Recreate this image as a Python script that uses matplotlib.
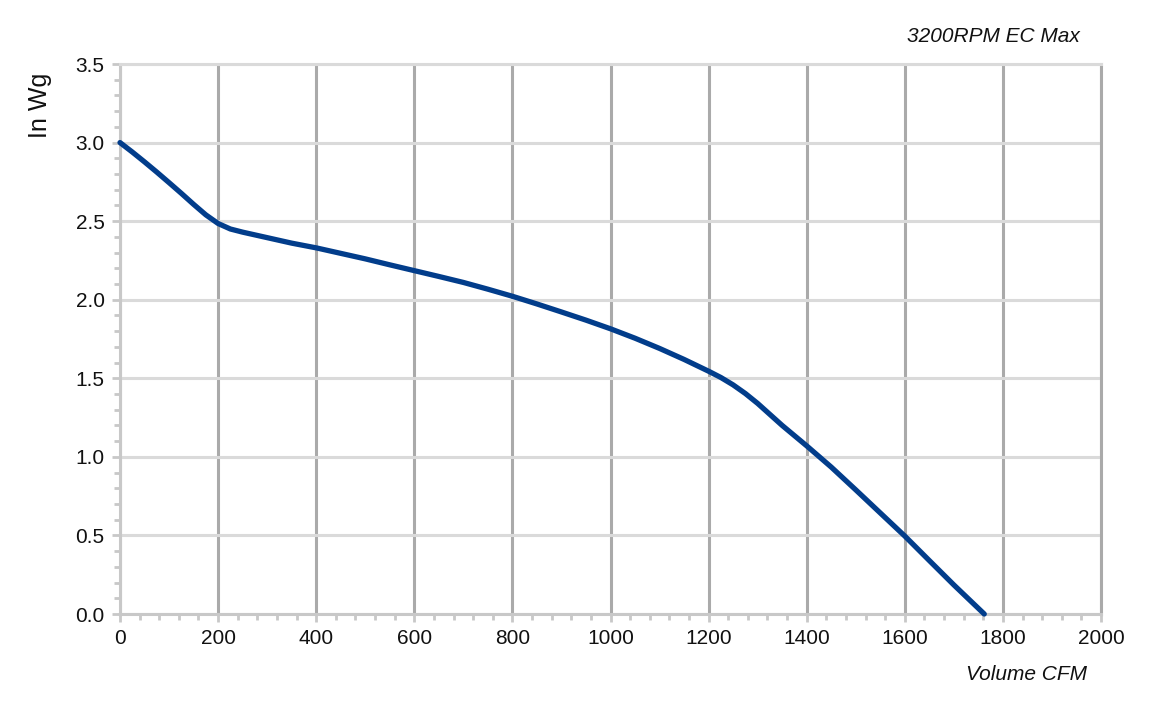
import matplotlib
matplotlib.use('Agg')
import matplotlib.pyplot as plt
from matplotlib.ticker import MultipleLocator

# fan curve
cfm = [0, 25, 50, 75, 100, 125, 150, 175, 200, 225, 250, 300, 350, 400,
       450, 500, 550, 600, 650, 700, 750, 800, 850, 900, 950, 1000, 1050,
       1100, 1150, 1200, 1225, 1250, 1275, 1300, 1325, 1350, 1375, 1400,
       1450, 1500, 1550, 1600, 1650, 1700, 1762]
in_wg = [3.0, 2.94, 2.877, 2.812, 2.745, 2.677, 2.607, 2.54, 2.485, 2.45, 2.43, 2.395, 2.36, 2.33,
         2.295, 2.26, 2.222, 2.185, 2.148, 2.11, 2.067, 2.022, 1.973, 1.922, 1.87, 1.815, 1.755,
         1.69, 1.62, 1.545, 1.505, 1.458, 1.403, 1.34, 1.27, 1.20, 1.135, 1.07,
         0.935, 0.79, 0.643, 0.496, 0.34, 0.185, 0.0]

title = '3200RPM EC Max'
xlabel = 'Volume CFM'
ylabel = 'In Wg'

plt.rcParams['font.family'] = ['Liberation Sans', 'DejaVu Sans']

fig = plt.figure(figsize=(11.49, 7.12), dpi=100)
ax = fig.add_axes([120/1149, 98/712, 981/1149, 550/712])

ax.plot(cfm, in_wg, color='#023d8b', lw=3.8, solid_capstyle='round',
        solid_joinstyle='round', clip_on=False, zorder=5)

ax.set_xlim(0, 2000)
ax.set_ylim(0, 3.5)
ax.xaxis.set_major_locator(MultipleLocator(200))
ax.xaxis.set_minor_locator(MultipleLocator(40))
ax.yaxis.set_major_locator(MultipleLocator(0.5))
ax.yaxis.set_minor_locator(MultipleLocator(0.1))
ax.yaxis.set_major_formatter(plt.FuncFormatter(lambda v, p: '%.1f' % v))

ax.grid(axis='x', which='major', color='#aaaaaa', lw=2.2)
ax.grid(axis='y', which='major', color='#dadada', lw=2.2)
ax.set_axisbelow(True)

ax.spines['left'].set_color('#c8c8c8')
ax.spines['bottom'].set_color('#c8c8c8')
ax.spines['top'].set_color('#dadada')
ax.spines['right'].set_color('#aaaaaa')
for s in ax.spines.values():
    s.set_linewidth(2.2)

ax.tick_params(which='major', length=6, width=2, color='#c8c8c8',
               labelsize=15, labelcolor='#111111', pad=5)
ax.tick_params(which='minor', length=4, width=2, color='#c8c8c8')

fig.text(1080/1149, 1 - 36/712, title, ha='right', va='center',
         style='italic', fontsize=15, color='#111111')
fig.text(1087/1149, 1 - 675/712, xlabel, ha='right', va='center',
         style='italic', fontsize=15, color='#111111')
fig.text(40/1149, 1 - 105/712, ylabel, ha='center', va='center',
         rotation=90, fontsize=18, color='#111111')

fig.savefig('out.png', dpi=100)
